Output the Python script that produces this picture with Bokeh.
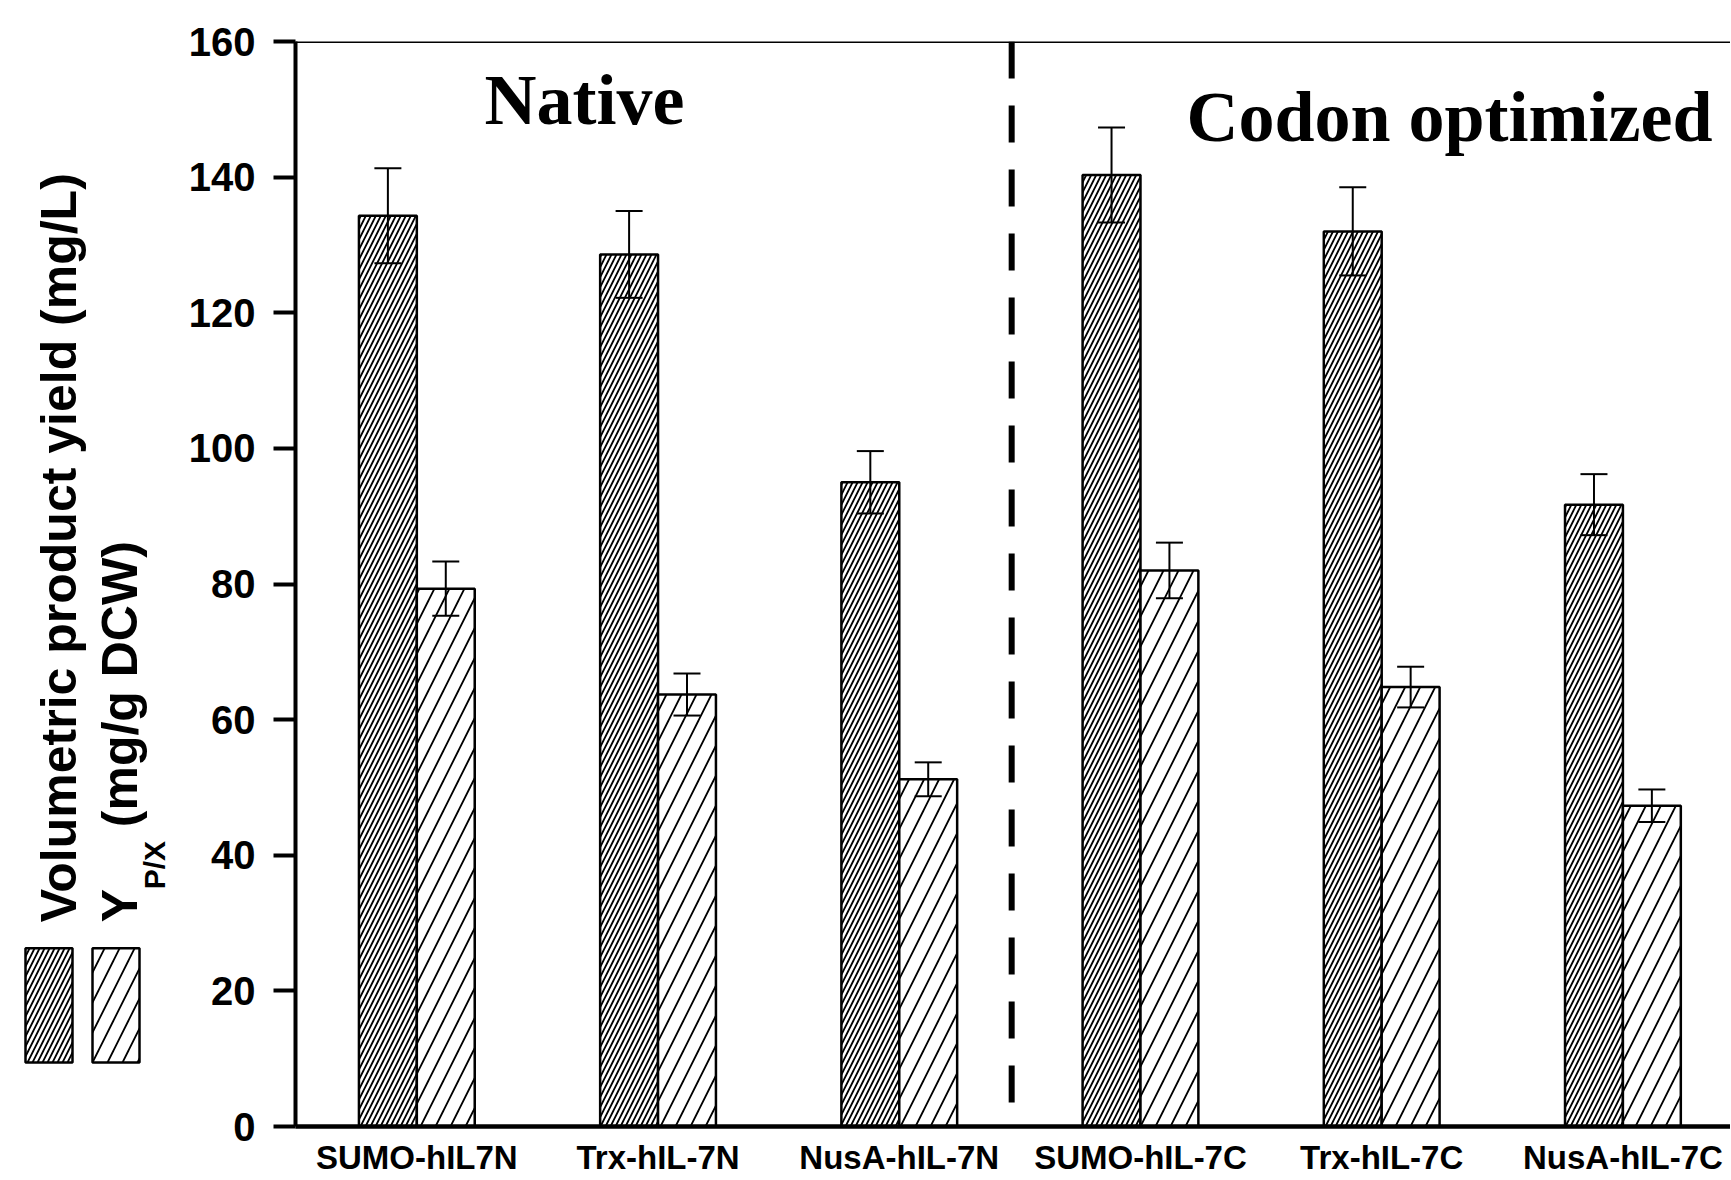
import math
from bokeh.plotting import figure
from bokeh.models import ColumnDataSource, Whisker, TeeHead, Span, FixedTicker, Range1d
from bokeh.layouts import row
from bokeh.transform import dodge
from bokeh.embed import file_html
from bokeh.resources import INLINE
from bokeh.core.properties import value

# ---------------- data ----------------
categories = ["SUMO-hIL7N", "Trx-hIL-7N", "NusA-hIL-7N",
              "SUMO-hIL-7C", "Trx-hIL-7C", "NusA-hIL-7C"]
volumetric = [134.3, 128.6, 95.0, 140.3, 132.0, 91.7]      # mg/L
volumetric_err = [7.0, 6.4, 4.6, 7.0, 6.5, 4.5]
ypx = [79.3, 63.7, 51.2, 82.0, 64.8, 47.3]                  # mg/g DCW
ypx_err = [4.0, 3.1, 2.5, 4.1, 3.0, 2.4]
y_ticks = [0, 20, 40, 60, 80, 100, 120, 140, 160]
group_titles = ["Native", "Codon optimized"]
legend_labels = ["Volumetric product yield (mg/L)", "Y", "P/X", "(mg/g DCW)"]

# ---------------- layout / style ----------------
H = 1178
LEG_W = 180
MAIN_W = 1550
BAR_W = 0.24
DIVIDER_X = 2.466
FONT = "Liberation Sans"
SERIF = "Liberation Serif"
DENSE = dict(fill_color="white", line_color="black", line_width=2.5,
             hatch_pattern="/", hatch_scale=10, hatch_weight=1.8, hatch_color="black")
SPARSE = dict(fill_color="white", line_color="black", line_width=2.5,
              hatch_pattern="/", hatch_scale=30, hatch_weight=1.8, hatch_color="black")

# frame geometry (page pixels) used to place the side legend in value units
FRAME_TOP_PX, FRAME_BOTTOM_PX = 42, 1126
def px_to_val(ypx_pos):
    return (FRAME_BOTTOM_PX - ypx_pos) / (FRAME_BOTTOM_PX - FRAME_TOP_PX) * 160

idx = list(range(len(categories)))
src = ColumnDataSource(dict(
    idx=idx,
    vol=volumetric,
    vol_up=[v + e for v, e in zip(volumetric, volumetric_err)],
    vol_lo=[v - e for v, e in zip(volumetric, volumetric_err)],
    ypx=ypx,
    ypx_up=[v + e for v, e in zip(ypx, ypx_err)],
    ypx_lo=[v - e for v, e in zip(ypx, ypx_err)],
))

p = figure(width=MAIN_W, height=H,
           x_range=Range1d(-0.503, 5.446), y_range=Range1d(0, 160),
           output_backend="svg", toolbar_location=None,
           min_border_left=115, min_border_right=0,
           min_border_top=41, min_border_bottom=40)
p.outline_line_color = None
p.grid.visible = False
p.background_fill_color = "white"
p.border_fill_color = "white"

p.vbar(x=dodge("idx", -BAR_W / 2, range=p.x_range), top="vol", width=BAR_W,
       source=src, **DENSE)
p.vbar(x=dodge("idx", BAR_W / 2, range=p.x_range), top="ypx", width=BAR_W,
       source=src, **SPARSE)

for off, up, lo in [(-BAR_W / 2, "vol_up", "vol_lo"), (BAR_W / 2, "ypx_up", "ypx_lo")]:
    w = Whisker(source=src, base=dodge("idx", off, range=p.x_range),
                upper=up, lower=lo, line_width=2, line_color="black", level="overlay",
                upper_head=TeeHead(size=27, line_width=2, line_color="black"),
                lower_head=TeeHead(size=27, line_width=2, line_color="black"))
    p.add_layout(w)

p.add_layout(Span(location=DIVIDER_X, dimension="height", line_color="black",
                  line_width=6, line_dash="37 27"))
p.add_layout(Span(location=160, dimension="width", line_color="black", line_width=3))

p.text(x=[0.695, 4.281], y=[151.4, 148.8], text=group_titles,
       text_font=value(SERIF), text_font_style="bold", text_font_size="72px",
       text_align="center", text_baseline="alphabetic", text_color="black")

# y axis
ya = p.yaxis[0]
ya.ticker = FixedTicker(ticks=y_ticks)
ya.axis_line_width = 4
ya.major_tick_line_width = 4
ya.major_tick_out = 22
ya.major_tick_in = 0
ya.minor_tick_line_color = None
ya.major_label_standoff = 18
ya.major_label_text_font = FONT
ya.major_label_text_font_style = "bold"
ya.major_label_text_font_size = "40px"
ya.major_label_text_color = "black"

# x axis
xa = p.xaxis[0]
xa.ticker = FixedTicker(ticks=idx)
xa.major_label_overrides = {i: c for i, c in zip(idx, categories)}
xa.axis_line_width = 4.5
xa.major_tick_line_color = None
xa.major_tick_out = 0
xa.major_tick_in = 0
xa.minor_tick_line_color = None
xa.major_label_standoff = 12
xa.major_label_text_font = FONT
xa.major_label_text_font_style = "bold"
xa.major_label_text_font_size = "33px"
xa.major_label_text_color = "black"

# ---------------- rotated legend (left strip, shares the y scale) ----------------
lf = figure(width=LEG_W, height=H, x_range=Range1d(0, LEG_W), y_range=p.y_range,
            output_backend="svg", toolbar_location=None,
            min_border_left=0, min_border_right=0, min_border_top=41, min_border_bottom=40)
lf.axis.visible = False
lf.grid.visible = False
lf.outline_line_color = None
lf.background_fill_color = "white"
lf.border_fill_color = "white"

sw_top, sw_bot = px_to_val(948), px_to_val(1062)
lf.quad(left=[25], right=[72], bottom=[sw_bot], top=[sw_top], **DENSE)
lf.quad(left=[92], right=[139], bottom=[sw_bot], top=[sw_top], **SPARSE)

rot = math.pi / 2
common = dict(text_font=value(FONT), text_font_style="bold", text_align="left",
              text_baseline="alphabetic", angle=rot, text_color="black")
lf.text(x=[58], y=[px_to_val(922)], text=[legend_labels[0]], text_font_size="50px", **common)
lf.text(x=[119], y=[px_to_val(922)], text=[legend_labels[1]], text_font_size="50px", **common)
lf.text(x=[154], y=[px_to_val(889)], text=[legend_labels[2]], text_font_size="30px", **common)
lf.text(x=[119], y=[px_to_val(827)], text=[legend_labels[3]], text_font_size="50px", **common)

layout = row(lf, p)
open("out.html", "w").write(file_html(layout, INLINE))
